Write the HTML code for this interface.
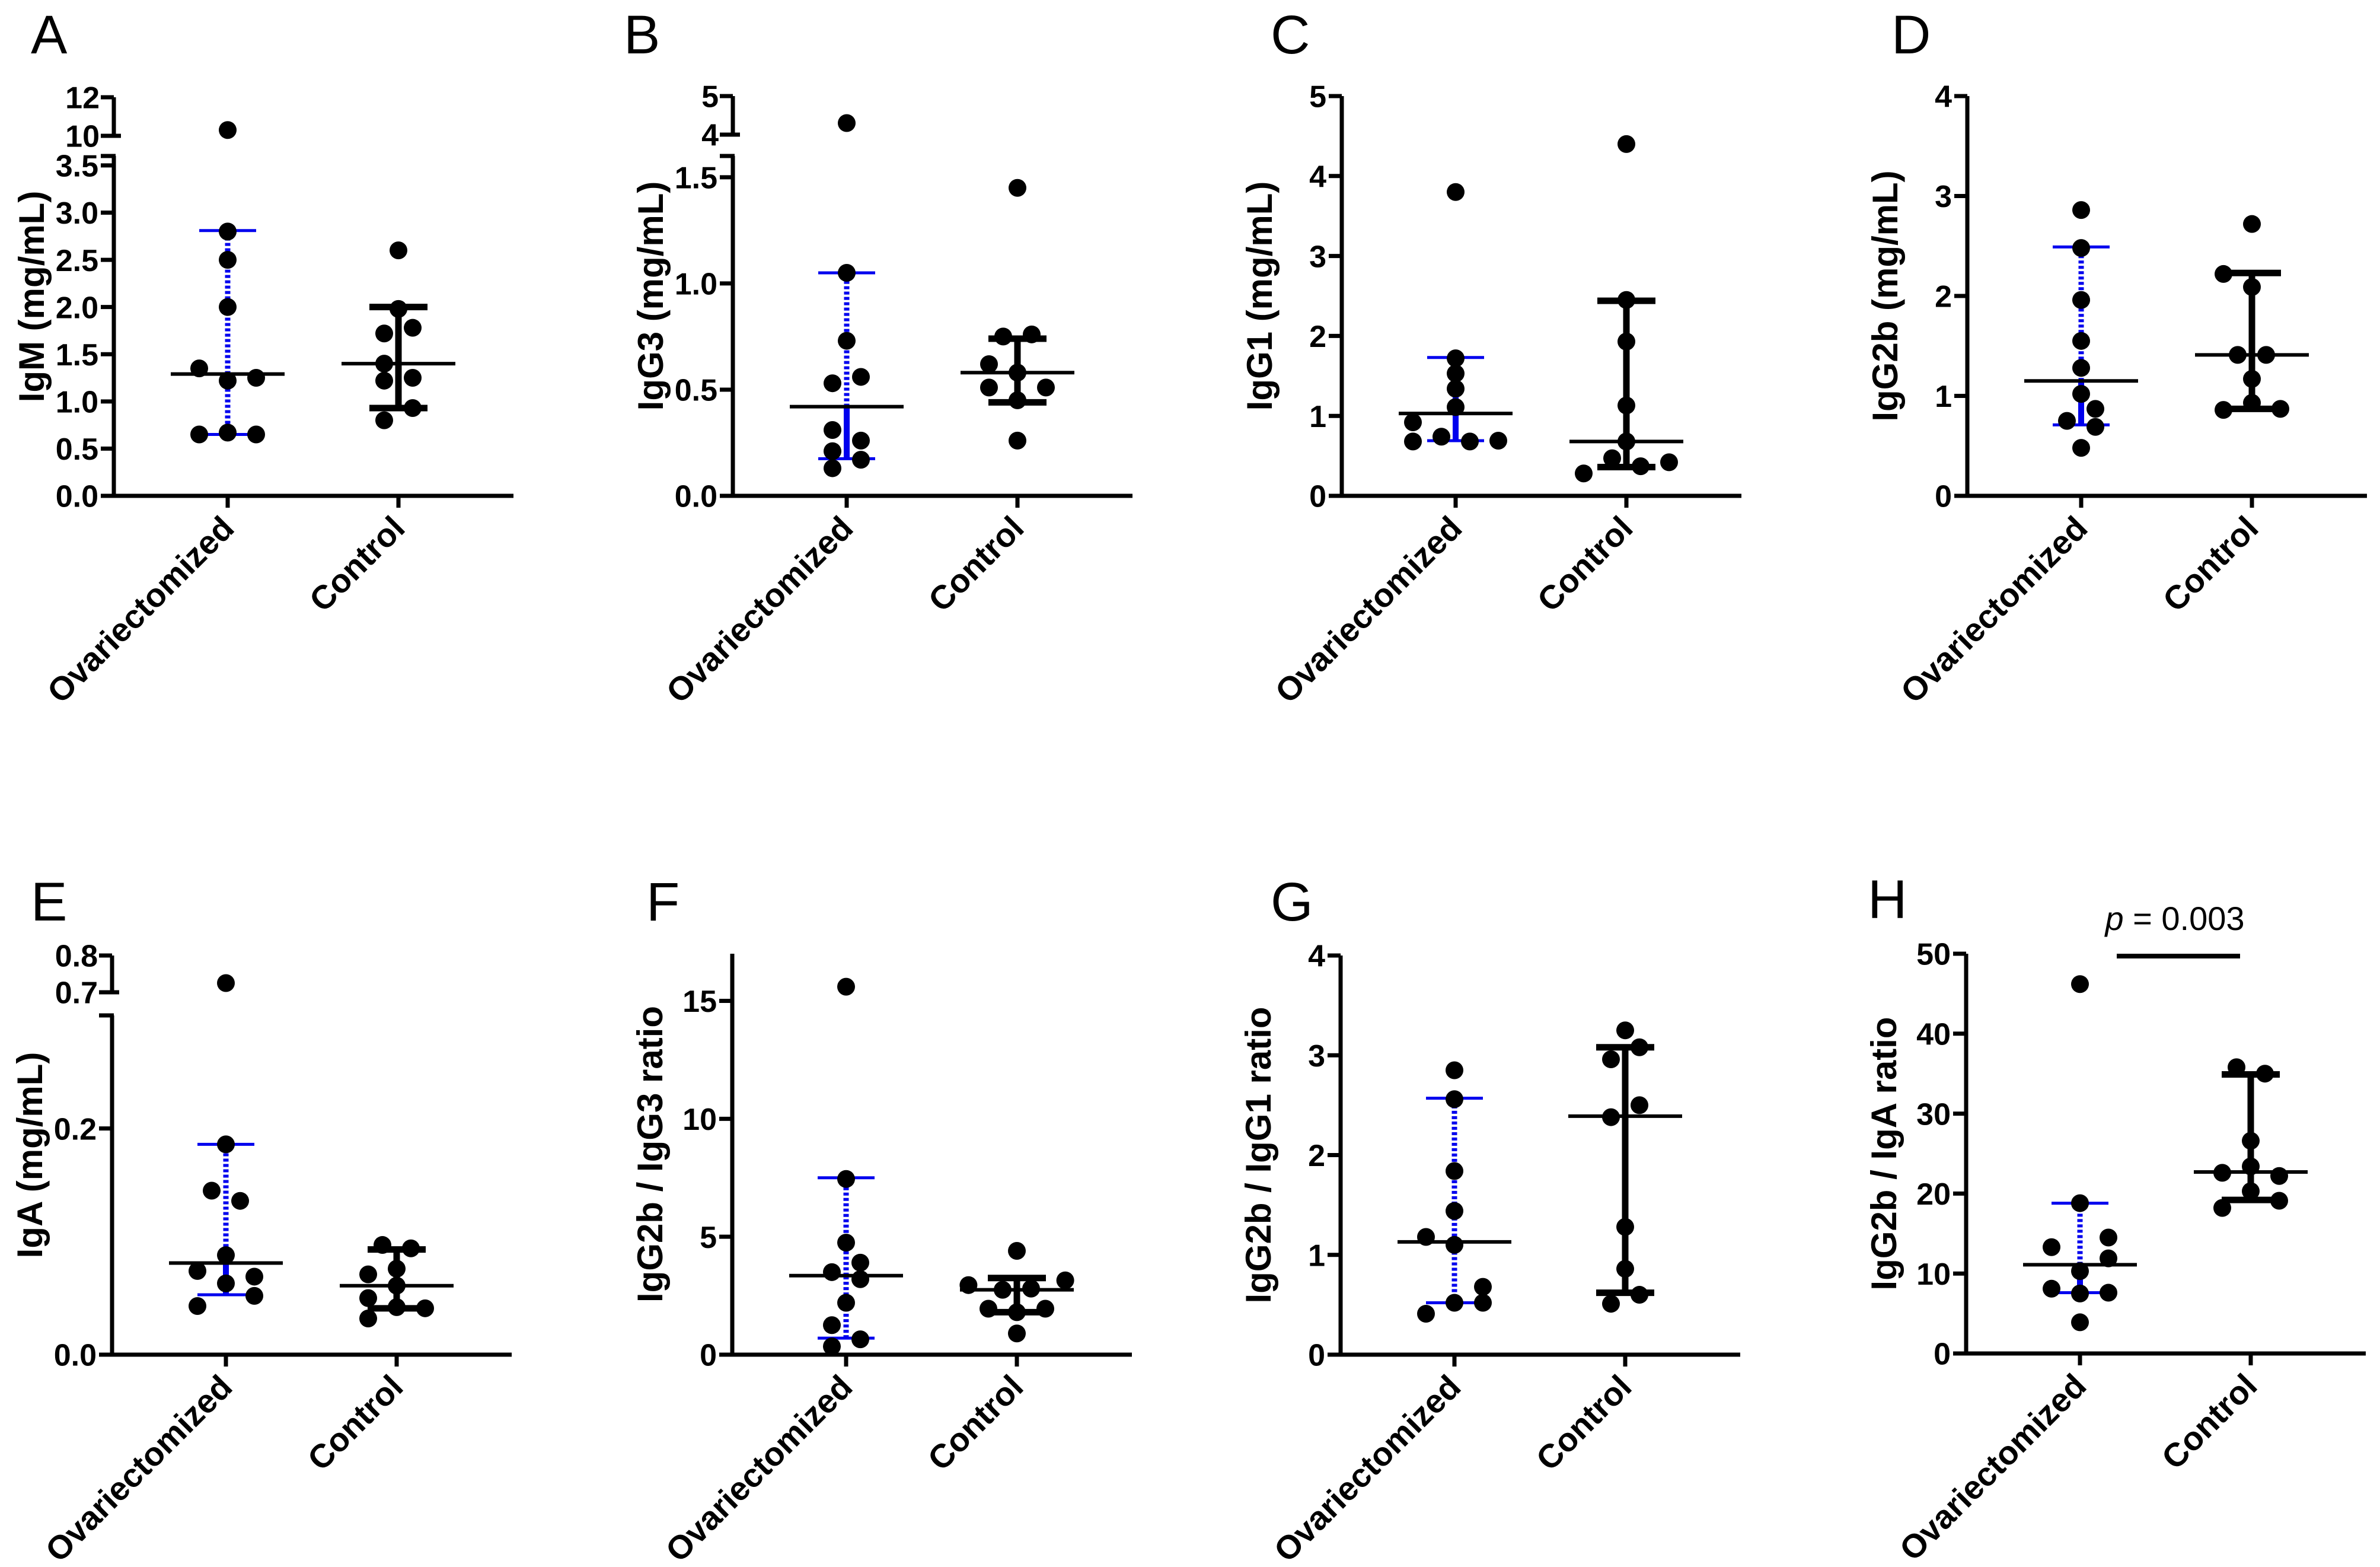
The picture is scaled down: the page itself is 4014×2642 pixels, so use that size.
<!DOCTYPE html>
<html><head><meta charset="utf-8"><style>
html,body{margin:0;padding:0;background:#fff;}
svg{display:block;font-family:"Liberation Sans",Arial,sans-serif;}
</style></head><body>
<svg id="fig" width="4014" height="2642" viewBox="0 0 4014 2642" xmlns="http://www.w3.org/2000/svg"></svg>
<script>
const groups = ["Ovariectomized","Control"];
// Panel A IgM
const A_ovx = [10.3,2.8,2.5,2.0,1.35,1.22,1.25,0.65,0.67,0.65];
const A_ctl = [2.6,1.98,1.72,1.78,1.4,1.22,1.25,0.8,0.93];
const A_med = [1.29,1.40], A_q1 = [0.65,0.93], A_q3 = [2.81,2.0];
const A_ticksLow = [0,0.5,1.0,1.5,2.0,2.5,3.0,3.5], A_ticksUp = [10,12];
// Panel B IgG3
const B_ovx = [4.3,1.05,0.73,0.53,0.56,0.31,0.26,0.21,0.17,0.13];
const B_ctl = [1.45,0.75,0.76,0.62,0.58,0.51,0.51,0.45,0.26];
const B_med = [0.42,0.58], B_q1 = [0.175,0.44], B_q3 = [1.05,0.74];
const B_ticksLow = [0,0.5,1.0,1.5], B_ticksUp = [4,5];
// Panel C IgG1
const C_ovx = [3.8,1.72,1.53,1.34,1.11,0.92,0.68,0.74,0.68,0.69];
const C_ctl = [4.4,2.45,1.93,1.13,0.68,0.47,0.37,0.42,0.28];
const C_med = [1.03,0.68], C_q1 = [0.69,0.36], C_q3 = [1.73,2.44];
const C_ticks = [0,1,2,3,4,5];
// Panel D IgG2b
const D_ovx = [2.86,2.48,1.96,1.55,1.28,1.02,0.87,0.75,0.69,0.48];
const D_ctl = [2.72,2.22,2.09,1.41,1.41,1.17,0.93,0.86,0.87];
const D_med = [1.15,1.41], D_q1 = [0.71,0.87], D_q3 = [2.49,2.23];
const D_ticks = [0,1,2,3,4];
// Panel E IgA
const E_ovx = [0.725,0.186,0.145,0.136,0.088,0.074,0.069,0.063,0.052,0.043];
const E_ctl = [0.097,0.094,0.076,0.071,0.061,0.05,0.042,0.041,0.032];
const E_med = [0.081,0.061], E_q1 = [0.053,0.041], E_q3 = [0.186,0.093];
const E_ticksLow = [0,0.2], E_ticksUp = [0.7,0.8];
// Panel F IgG2b/IgG3
const F_ovx = [15.6,7.45,4.75,3.9,3.5,3.2,2.2,1.25,0.65,0.35];
const F_ctl = [4.4,3.15,2.95,2.75,2.8,1.95,1.95,1.8,0.9];
const F_med = [3.35,2.75], F_q1 = [0.7,1.8], F_q3 = [7.5,3.25];
const F_ticks = [0,5,10,15];
// Panel G IgG2b/IgG1
const G_ovx = [2.85,2.56,1.84,1.44,1.18,1.1,0.68,0.52,0.52,0.41];
const G_ctl = [3.25,3.08,2.96,2.5,2.38,1.28,0.86,0.6,0.51];
const G_med = [1.13,2.39], G_q1 = [0.52,0.62], G_q3 = [2.57,3.08];
const G_ticks = [0,1,2,3,4];
// Panel H IgG2b/IgA
const H_ovx = [46.2,18.8,14.5,13.3,11.9,10.3,8.1,7.5,7.6,3.9];
const H_ctl = [35.8,35.0,26.6,23.4,22.6,22.2,20.3,19.1,18.2];
const H_med = [11.1,22.7], H_q1 = [7.6,19.2], H_q3 = [18.8,34.9];
const H_ticks = [0,10,20,30,40,50];
const H_pText = "0.003";

// jitter slots (layout, not data)
const jitA = [[0,0,0,0,-2,0,2,-2,0,2],[0,0,-1,1,-1,-1,1,-1,1]];
const jitB = [[0,0,0,-1,1,-1,1,-1,1,-1],[0,-1,1,-2,0,-2,2,0,0]];
const jitC = [[0,0,0,0,0,-3,-3,-1,1,3],[0,0,0,0,0,-1,1,3,-3]];
const jitD = [[0,0,0,0,0,0,1,-1,1,0],[0,-2,0,-1,1,0,0,-2,2]];
const jitE = [[0,0,-1,1,0,-2,2,0,2,-2],[-1,1,0,-2,0,-2,0,2,-2]];
const jitF = [[0,0,0,1,-1,1,0,-1,1,-1],[0,3.4,-3.4,-1,1,-2,2,0,0]];
const jitG = [[0,0,0,0,-2,0,2,0,2,-2],[0,1,-1,1,-1,0,0,1,-1]];
const jitH = [[0,0,2,-2,2,0,-2,0,2,0],[-1,1,0,0,-2,2,0,2,-2]];

const NS = "http://www.w3.org/2000/svg";
const svg = document.getElementById("fig");
function mk(tag, attrs, parent){
  const e = document.createElementNS(NS, tag);
  for (const k in attrs) e.setAttribute(k, attrs[k]);
  (parent||svg).appendChild(e);
  return e;
}

const panels = [
 {id:"a",letter:"A",lx:52,ly:90,ax:192,y0:836,yTop:263,lowMax:3.6,lowTop:3.6,up:{min:10,max:12,yMin:229,yMax:164},tl:A_ticksLow,tu:A_ticksUp,dec:1,title:"IgM (mg/mL)",ovx:A_ovx,ctl:A_ctl,med:A_med,q1:A_q1,q3:A_q3,jit:jitA,above:"dash",below:"dash"},
 {id:"b",letter:"B",lx:1052,ly:90,ax:1236,y0:836,yTop:263,lowMax:1.6,up:{min:4,max:5,yMin:227,yMax:162},tl:B_ticksLow,tu:B_ticksUp,dec:1,upDec:0,title:"IgG3 (mg/mL)",ovx:B_ovx,ctl:B_ctl,med:B_med,q1:B_q1,q3:B_q3,jit:jitB,above:"dash",below:"solid"},
 {id:"c",letter:"C",lx:2143,ly:90,ax:2263,y0:836,yTop:162,lowMax:5,tl:C_ticks,dec:0,title:"IgG1 (mg/mL)",ovx:C_ovx,ctl:C_ctl,med:C_med,q1:C_q1,q3:C_q3,jit:jitC,above:"solid",below:"solid"},
 {id:"d",letter:"D",lx:3190,ly:90,ax:3318,y0:836,yTop:162,lowMax:4,tl:D_ticks,dec:0,title:"IgG2b (mg/mL)",ovx:D_ovx,ctl:D_ctl,med:D_med,q1:D_q1,q3:D_q3,jit:jitD,above:"dash",below:"solid"},
 {id:"e",letter:"E",lx:52,ly:1552,ax:189,y0:2284,yTop:1712,lowMax:0.3,up:{min:0.7,max:0.8,yMin:1673,yMax:1611},tl:E_ticksLow,tu:E_ticksUp,dec:1,title:"IgA (mg/mL)",ovx:E_ovx,ctl:E_ctl,med:E_med,q1:E_q1,q3:E_q3,jit:jitE,above:"dash",below:"solid"},
 {id:"f",letter:"F",lx:1090,ly:1552,ax:1235,y0:2284,yTop:1608,lowMax:17,tl:F_ticks,dec:0,title:"IgG2b / IgG3 ratio",ovx:F_ovx,ctl:F_ctl,med:F_med,q1:F_q1,q3:F_q3,jit:jitF,above:"dash",below:"dash",noCap:true},
 {id:"g",letter:"G",lx:2143,ly:1552,ax:2261,y0:2284,yTop:1611,lowMax:4,tl:G_ticks,dec:0,title:"IgG2b / IgG1 ratio",ovx:G_ovx,ctl:G_ctl,med:G_med,q1:G_q1,q3:G_q3,jit:jitG,above:"dash",below:"dash"},
 {id:"h",letter:"H",lx:3150,ly:1548,ax:3316,y0:2282,yTop:1608,lowMax:50,tl:H_ticks,dec:0,title:"IgG2b / IgA ratio",ovx:H_ovx,ctl:H_ctl,med:H_med,q1:H_q1,q3:H_q3,jit:jitH,above:"dash",below:"solid",sig:true}
];

const G1 = 192, G2 = 480, XLEN = 674, JU = 24;

panels.forEach(p => {
  const g = mk("g", {});
  
  
  const yLow = v => p.y0 - (v / p.lowMax) * (p.y0 - p.yTop);
  const y = v => (p.up && v >= p.up.min - 1e-9 && v > p.lowMax) ? p.up.yMin - (v - p.up.min) / (p.up.max - p.up.min) * (p.up.yMin - p.up.yMax) : yLow(v);
  const gx = [p.ax + G1, p.ax + G2];

  // panel letter
  const L = mk("text", {x:p.lx, y:p.ly, "font-size":92, fill:"#000"}, g);
  L.textContent = p.letter;
  
  

  // y axis
  const ya = mk("g", {}, g);
  
  
  mk("line", {x1:p.ax, y1:p.y0+3.5, x2:p.ax, y2:p.yTop, stroke:"#000","stroke-width":7}, ya);
  if (p.up) {
    mk("line", {x1:p.ax-22, y1:p.yTop, x2:p.ax+3, y2:p.yTop, stroke:"#000","stroke-width":7}, ya);
    mk("line", {x1:p.ax, y1:p.up.yMin, x2:p.ax, y2:p.up.yMax, stroke:"#000","stroke-width":7}, ya);
    p.tu.forEach((t,i) => {
      const ty = y(t);
      mk("line", {x1:p.ax-22, y1:ty, x2:p.ax + (i===0?12:0), y2:ty, stroke:"#000","stroke-width":7}, ya);
      const tt = mk("text", {x:p.ax-24, y:ty, dy:"0.36em","text-anchor":"end","font-size":52,"font-weight":"bold"}, ya);
      tt.textContent = p.upDec===0 ? String(t) : (t >= 1 ? String(t) : t.toFixed(1));
      
      
    });
  }
  p.tl.forEach(t => {
    const ty = yLow(t);
    mk("line", {x1:p.ax-22, y1:ty, x2:p.ax, y2:ty, stroke:"#000","stroke-width":7}, ya);
    const tt = mk("text", {x:p.ax-26, y:ty, dy:"0.36em","text-anchor":"end","font-size":52,"font-weight":"bold"}, ya);
    tt.textContent = p.dec ? t.toFixed(1) : String(t);
    
    
  });
  const cy = (p.y0 + (p.up ? p.up.yMax : p.yTop)) / 2;
  const ttl = mk("text", {x:0, y:0, "text-anchor":"middle","font-size":60,"font-weight":"bold", transform:`translate(${p.ax-118},${cy}) rotate(-90)`}, g);
  ttl.textContent = p.title;
  
  

  // x axis
  const xa = mk("g", {}, g);
  
  
  mk("line", {x1:p.ax-22, y1:p.y0, x2:p.ax+XLEN, y2:p.y0, stroke:"#000","stroke-width":7}, xa);
  groups.forEach((name,i) => {
    mk("line", {x1:gx[i], y1:p.y0, x2:gx[i], y2:p.y0+20, stroke:"#000","stroke-width":7}, xa);
    const ct = mk("text", {x:0, y:0, "text-anchor":"end","font-size":56,"font-weight":"bold", transform:`translate(${gx[i]+14},${p.y0+58}) rotate(-45)`}, xa);
    ct.textContent = name;
    
    
  });

  // error bars
  [0,1].forEach(i => {
    const eb = mk("g", {}, g);
    
    
    const x = gx[i];
    if (i === 0) {
      const col = "#0000ee";
      const seg = (a,b,style) => {
        if (style === "dash") mk("line", {x1:x,y1:y(a),x2:x,y2:y(b),stroke:col,"stroke-width":9,"stroke-dasharray":"5 4"}, eb);
        else mk("line", {x1:x,y1:y(a),x2:x,y2:y(b),stroke:col,"stroke-width":10}, eb);
      };
      seg(p.med[0], p.q3[0], p.above);
      seg(p.q1[0], p.med[0], p.below);
      mk("line", {x1:x-48,y1:y(p.q3[0]),x2:x+48,y2:y(p.q3[0]),stroke:col,"stroke-width":5}, eb);
      mk("line", {x1:x-48,y1:y(p.q1[0]),x2:x+48,y2:y(p.q1[0]),stroke:col,"stroke-width":5}, eb);
    } else {
      mk("line", {x1:x,y1:y(p.q1[1]),x2:x,y2:y(p.q3[1]),stroke:"#000","stroke-width":11}, eb);
      mk("line", {x1:x-49,y1:y(p.q3[1]),x2:x+49,y2:y(p.q3[1]),stroke:"#000","stroke-width":11}, eb);
      mk("line", {x1:x-49,y1:y(p.q1[1]),x2:x+49,y2:y(p.q1[1]),stroke:"#000","stroke-width":11}, eb);
    }
  });

  // dots
  [p.ovx, p.ctl].forEach((arr,i) => {
    const dg = mk("g", {}, g);
    
    
    arr.forEach((v,k) => {
      const c = mk("circle", {cx:gx[i] + p.jit[i][k]*JU, cy:y(v), r:15, fill:"#000"}, dg);
      
      
    });
  });

  // median lines
  [0,1].forEach(i => {
    const m = mk("line", {x1:gx[i]-96,y1:y(p.med[i]),x2:gx[i]+96,y2:y(p.med[i]),stroke:"#000","stroke-width":6}, g);
    
    
  });

  if (p.sig) {
    const sl = mk("line", {x1:3570,y1:1612,x2:3778,y2:1612,stroke:"#000","stroke-width":8}, g);
    
    
    const st = mk("text", {x:3668,y:1568,"text-anchor":"middle","font-size":56}, g);
    
    
    const ti = mk("tspan", {"font-style":"italic"}, st); ti.textContent = "p";
    const tn = mk("tspan", {}, st); tn.textContent = " = " + H_pText;
  }
});
</script>
</body></html>
